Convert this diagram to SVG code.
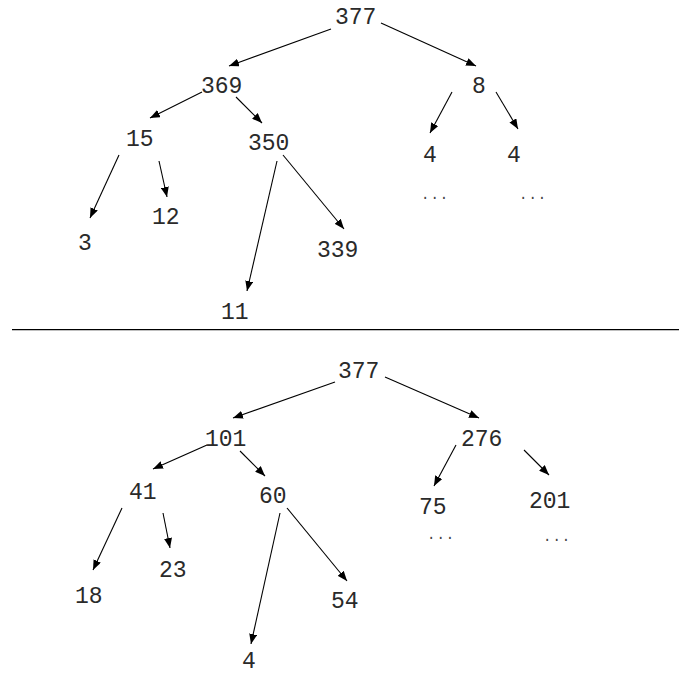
<svg xmlns="http://www.w3.org/2000/svg" width="679" height="675" viewBox="0 0 679 675">
  <style>
    .lbl { font-family: "Liberation Mono", "Courier New", monospace; font-size: 23px; fill: #2a2a2a; }
    .dots { font-family: "Liberation Mono", "Courier New", monospace; font-size: 14px; fill: #444; letter-spacing: 1px; }
    .edge { stroke: #000; stroke-width: 1.1; fill: none; marker-end: url(#arr); }
  </style>
  <defs>
    <marker id="arr" markerUnits="userSpaceOnUse" markerWidth="10" markerHeight="8" viewBox="0 0 10 8" refX="10" refY="4" orient="auto">
      <path d="M0,0 L10,4 L0,8 z" fill="#000"/>
    </marker>
  </defs>
  <rect width="679" height="675" fill="#fff"/>

  <!-- connectors -->
  <g id="connectors">
    <!-- upper tree -->
    <line class="edge" x1="331" y1="29" x2="229" y2="66"/>
    <line class="edge" x1="381" y1="23" x2="476" y2="66"/>
    <line class="edge" x1="202" y1="92" x2="150" y2="118"/>
    <line class="edge" x1="236" y1="97" x2="262" y2="123"/>
    <line class="edge" x1="452" y1="92" x2="430" y2="133"/>
    <line class="edge" x1="496" y1="92" x2="518" y2="129"/>
    <line class="edge" x1="119" y1="155" x2="90" y2="218"/>
    <line class="edge" x1="159" y1="161" x2="167" y2="197"/>
    <line class="edge" x1="277" y1="161" x2="247" y2="291"/>
    <line class="edge" x1="283" y1="155" x2="344" y2="229"/>
    <!-- divider -->
    <line x1="12" y1="329.6" x2="679" y2="329.6" stroke="#000" stroke-width="1.4"/>
    <!-- lower tree -->
    <line class="edge" x1="335" y1="382" x2="233" y2="418"/>
    <line class="edge" x1="385" y1="377" x2="479" y2="418"/>
    <line class="edge" x1="207" y1="445" x2="153" y2="469"/>
    <line class="edge" x1="240" y1="451" x2="265" y2="476"/>
    <line class="edge" x1="456" y1="445" x2="434" y2="486"/>
    <line class="edge" x1="524" y1="450" x2="549" y2="475"/>
    <line class="edge" x1="122" y1="508" x2="93" y2="570"/>
    <line class="edge" x1="163" y1="513" x2="170" y2="548"/>
    <line class="edge" x1="280" y1="513" x2="251" y2="644"/>
    <line class="edge" x1="287" y1="508" x2="347" y2="581"/>
  </g>

  <!-- upper tree nodes -->
  <g id="a377"><text class="lbl" x="335" y="24">377</text></g>
  <g id="a369"><text class="lbl" x="201" y="93">369</text></g>
  <g id="a8"><text class="lbl" x="472" y="93">8</text></g>
  <g id="a15"><text class="lbl" x="126" y="146">15</text></g>
  <g id="a350"><text class="lbl" x="248" y="150">350</text></g>
  <g id="a4l"><text class="lbl" x="423" y="162">4</text></g>
  <g id="a4r"><text class="lbl" x="507" y="162">4</text></g>
  <g id="a4l_more"><text class="dots" x="421" y="199">...</text></g>
  <g id="a4r_more"><text class="dots" x="519" y="199">...</text></g>
  <g id="a3"><text class="lbl" x="78" y="250">3</text></g>
  <g id="a12"><text class="lbl" x="152" y="224">12</text></g>
  <g id="a11"><text class="lbl" x="221" y="319">11</text></g>
  <g id="a339"><text class="lbl" x="317" y="257">339</text></g>

  <!-- lower tree nodes -->
  <g id="b377"><text class="lbl" x="338" y="378">377</text></g>
  <g id="b101"><text class="lbl" x="205" y="446">101</text></g>
  <g id="b276"><text class="lbl" x="461" y="446">276</text></g>
  <g id="b41"><text class="lbl" x="129" y="499">41</text></g>
  <g id="b60"><text class="lbl" x="259" y="503">60</text></g>
  <g id="b75"><text class="lbl" x="419" y="514">75</text></g>
  <g id="b201"><text class="lbl" x="529" y="508">201</text></g>
  <g id="b75_more"><text class="dots" x="427" y="539">...</text></g>
  <g id="b201_more"><text class="dots" x="543" y="541">...</text></g>
  <g id="b18"><text class="lbl" x="75" y="603">18</text></g>
  <g id="b23"><text class="lbl" x="159" y="577">23</text></g>
  <g id="b4"><text class="lbl" x="242" y="668">4</text></g>
  <g id="b54"><text class="lbl" x="331" y="608">54</text></g>
</svg>
